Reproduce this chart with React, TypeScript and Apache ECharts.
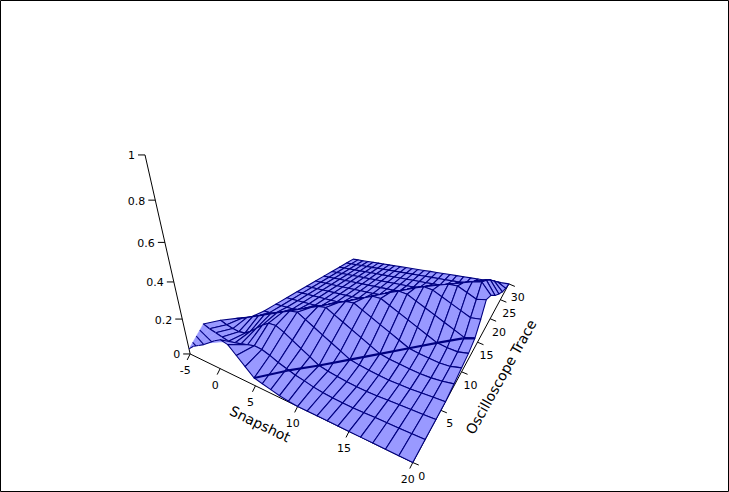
import React, { useEffect, useRef } from "react";
import * as echarts from "echarts";

const snapshots = [-5,-4,-3,-2,-1,0,1,2,3,4,5,6,7,8,9,10,11,12,13,14,15,16,17,18,19,20];
const traces = [0,2,4,6,8,10,12,14,16,18,20,22,24,26,28,30];
const zTrace0 = [.03,.06,.08,.1,.125,.15,.17,.16,.12,.08,.04,.03,.02,.01,.004,0,0,0,0,0,0,0,0,0,0,0];
const zTrace2 = [.12,.105,.095,.085,.075,.08,.09,.1,.11,.105,.09,.07,.055,.04,.03,.018,.01,.005,.002,0,0,0,0,0,0,0];
const zTrace4 = [.09,.075,.065,.06,.065,.09,.12,.15,.175,.175,.152,.124,.096,.068,.04,.028,.019,.011,.005,.002,0,0,0,0,0,0];
const zTrace6 = [.05,.064,.081,.098,.115,.133,.15,.168,.186,.203,.208,.18,.152,.124,.096,.068,.04,.028,.019,.011,.005,.002,0,0,0,0];
const zTrace8 = [.01,.026,.044,.062,.079,.097,.115,.132,.15,.168,.185,.203,.208,.18,.152,.124,.096,.068,.04,.028,.019,.011,.005,.002,.004,.01];
const zTrace10 = [0,0,.008,.026,.043,.061,.079,.096,.114,.132,.15,.169,.187,.206,.208,.18,.152,.124,.096,.068,.04,.028,.019,.011,.01,.02];
const zTrace12 = [0,0,0,0,.007,.025,.043,.061,.079,.097,.116,.134,.152,.172,.192,.211,.208,.18,.152,.124,.096,.068,.04,.028,.022,.03];
const zTrace14 = [0,0,0,0,0,0,.007,.026,.044,.063,.082,.1,.12,.139,.159,.179,.198,.216,.208,.18,.152,.124,.096,.068,.04,.05];
const zTrace16 = [0,0,0,0,0,0,0,0,.01,.029,.048,.067,.087,.107,.126,.145,.164,.182,.201,.218,.208,.18,.152,.124,.096,.1];
const zTrace18 = [0,0,0,0,0,0,0,0,0,0,.015,.035,.054,.074,.093,.111,.13,.148,.166,.18,.195,.209,.208,.18,.152,.16];
const zTrace20 = [0,0,0,0,0,0,0,0,0,0,0,.002,.022,.04,.059,.077,.096,.114,.128,.142,.157,.171,.186,.201,.208,.14];
const zTrace22 = [0,0,0,0,0,0,0,0,0,0,0,0,0,.006,.025,.043,.061,.076,.09,.105,.119,.134,.149,.164,.179,.095];
const zTrace24 = [0,0,0,0,0,0,0,0,0,0,0,0,0,0,0,.009,.024,.038,.053,.067,.082,.096,.111,.127,.139,.06];
const zTrace26 = [0,0,0,0,0,0,0,0,0,0,0,0,0,0,0,0,0,.001,.015,.03,.044,.059,.074,.089,.092,.03];
const zTrace28 = [0,0,0,0,0,0,0,0,0,0,0,0,0,0,0,0,0,0,0,0,.007,.022,.037,.05,.045,.01];
const zTrace30 = [0,0,0,0,0,0,0,0,0,0,0,0,0,0,0,0,0,0,0,0,0,0,0,0,0,0];
const zRows = [zTrace0,zTrace2,zTrace4,zTrace6,zTrace8,zTrace10,zTrace12,zTrace14,zTrace16,zTrace18,zTrace20,zTrace22,zTrace24,zTrace26,zTrace28,zTrace30];

const snapshotTicks = [-5,0,5,10,15,20];
const traceTicks = [0,5,10,15,20,25,30];
const heightTicks = [0,0.2,0.4,0.6,0.8,1];
const foldLine = [[5,0,.04],[7,2,.045],[9,4,.04],[11,6,.04],[13,8,.04],[15,10,.04],[17,12,.04],[19,13.5,.05],[20,14,.05]];
const cornerLines = [[-5,.5,.0525,-3.5,0,.07],[-5,1,.075,-2,0,.1],[-5,1.5,.0975,-.5,0,.137]];

const CAM = [2.894735,14.31604,-72.28734,220.1601,-2.850172,2.7723,-240.3265,368.5927,-0.01631902,0.02389435,-0.1617729];
const project = (x:number,y:number,z:number)=>{
  const w = CAM[8]*x+CAM[9]*y+CAM[10]*z+1;
  return [(CAM[0]*x+CAM[1]*y+CAM[2]*z+CAM[3])/w,(CAM[4]*x+CAM[5]*y+CAM[6]*z+CAM[7])/w];
};
const FILL="#9999ff", EDGE="#000080", FONT='"DejaVu Sans", sans-serif';

export default function App(){
  const ref = useRef<HTMLDivElement>(null);
  useEffect(()=>{
    document.body.style.margin="0";
    const chart = echarts.init(ref.current!, undefined, {renderer:"svg"});
    const cells:number[][]=[];
    for(let j=traces.length-2;j>=0;j--) for(let i=0;i<snapshots.length-1;i++) cells.push([i,j]);
    const px=(api:any,x:number,y:number,z:number)=>api.coord(project(x,y,z));
    const txt=(x:number,y:number,text:string,size:number,align:string,rotation=0)=>({type:"text",x,y,rotation,silent:true,style:{text,fill:"#000",font:`${size}px ${FONT}`,align,verticalAlign:"middle",textAlign:align,textVerticalAlign:"middle"}});
    const seg=(a:number[],b:number[],lw=1,color="#000",z2=1)=>({type:"line",silent:true,z2,shape:{x1:a[0],y1:a[1],x2:b[0],y2:b[1]},style:{stroke:color,lineWidth:lw,fill:"none"}});
    const option:any={
      animation:false,
      backgroundColor:"#fff",
      grid:{left:0,right:0,top:0,bottom:0},
      xAxis:{type:"value",min:0,max:729,show:false},
      yAxis:{type:"value",min:0,max:492,inverse:true,show:false},
      graphic:[{type:"rect",silent:true,shape:{x:.5,y:.5,width:728,height:491},style:{fill:"none",stroke:"#000",lineWidth:1}}],
      series:[
        {type:"custom",name:"Snapshot axis",silent:true,clip:false,z:1,data:snapshotTicks.map((v,i)=>[v,i]),renderItem:(_:any,api:any)=>{
          const v=api.value(0),a=px(api,v,0,0);
          const ch:any[]=[seg(a,[a[0]-3,a[1]+6]),txt(a[0]-5,a[1]+17,String(v),11,"center")];
          if(v===snapshotTicks[0]) ch.push(seg(a,px(api,20,0,0)),txt(260,424,"Snapshot",14,"center",-0.45));
          return {type:"group",children:ch};
        }},
        {type:"custom",name:"Oscilloscope Trace axis",silent:true,clip:false,z:1,data:traceTicks.map((v,i)=>[v,i]),renderItem:(_:any,api:any)=>{
          const v=api.value(0),a=px(api,20,v,0);
          const ch:any[]=[seg(a,[a[0]+6,a[1]+2.5]),txt(a[0]+9,a[1]+13.5,String(v),11,"center")];
          if(v===traceTicks[0]) ch.push(seg(a,px(api,20,30,0)),txt(501,377,"Oscilloscope Trace",14,"center",1.06));
          return {type:"group",children:ch};
        }},
        {type:"custom",name:"Height axis",silent:true,clip:false,z:1,data:heightTicks.map((v,i)=>[v,i]),renderItem:(_:any,api:any)=>{
          const v=api.value(0),a=px(api,-5,0,v);
          const ch:any[]=[seg(a,[a[0]-7,a[1]]),txt(a[0]-10,a[1]+1,String(v),11,"right")];
          if(v===heightTicks[0]) ch.push(seg(a,px(api,-5,0,1)));
          return {type:"group",children:ch};
        }},
        {type:"custom",name:"Surface",silent:true,clip:false,z:2,data:cells,renderItem:(p:any,api:any)=>{
          const i=api.value(0),j=api.value(1);
          const c=(a:number,b:number)=>px(api,snapshots[a],traces[b],zRows[b][a]);
          const q=[c(i,j),c(i+1,j),c(i+1,j+1),c(i,j+1)];
          const z2=p.dataIndex*3+1;
          if(j===0&&snapshots[i]<1) return {type:"group",children:[
            {type:"polygon",silent:true,z2,shape:{points:q},style:{fill:FILL,stroke:FILL,lineWidth:.4}},
            seg(q[0],q[1],1.1,EDGE,z2+1),seg(q[3],q[2],1.1,EDGE,z2+1)
          ]};
          return {type:"polygon",silent:true,z2,shape:{points:q},style:{fill:FILL,stroke:EDGE,lineWidth:1.1,lineJoin:"round"}};
        }},
        {type:"custom",name:"Corner lines",silent:true,clip:false,z:3,data:cornerLines,renderItem:(_:any,api:any)=>{
          const a=px(api,api.value(0),api.value(1),api.value(2)),b=px(api,api.value(3),api.value(4),api.value(5));
          return seg(a,b,1.1,EDGE);
        }},
        {type:"custom",name:"Fold line",silent:true,clip:false,z:3,data:foldLine.slice(0,-1).map((d,i)=>[...d,...foldLine[i+1]]),renderItem:(_:any,api:any)=>{
          const a=px(api,api.value(0),api.value(1),api.value(2)),b=px(api,api.value(3),api.value(4),api.value(5));
          return seg(a,b,2.2,EDGE);
        }},
      ],
    };
    chart.setOption(option);
    return ()=>chart.dispose();
  },[]);
  return <div ref={ref} style={{width:729,height:492}}/>;
}
